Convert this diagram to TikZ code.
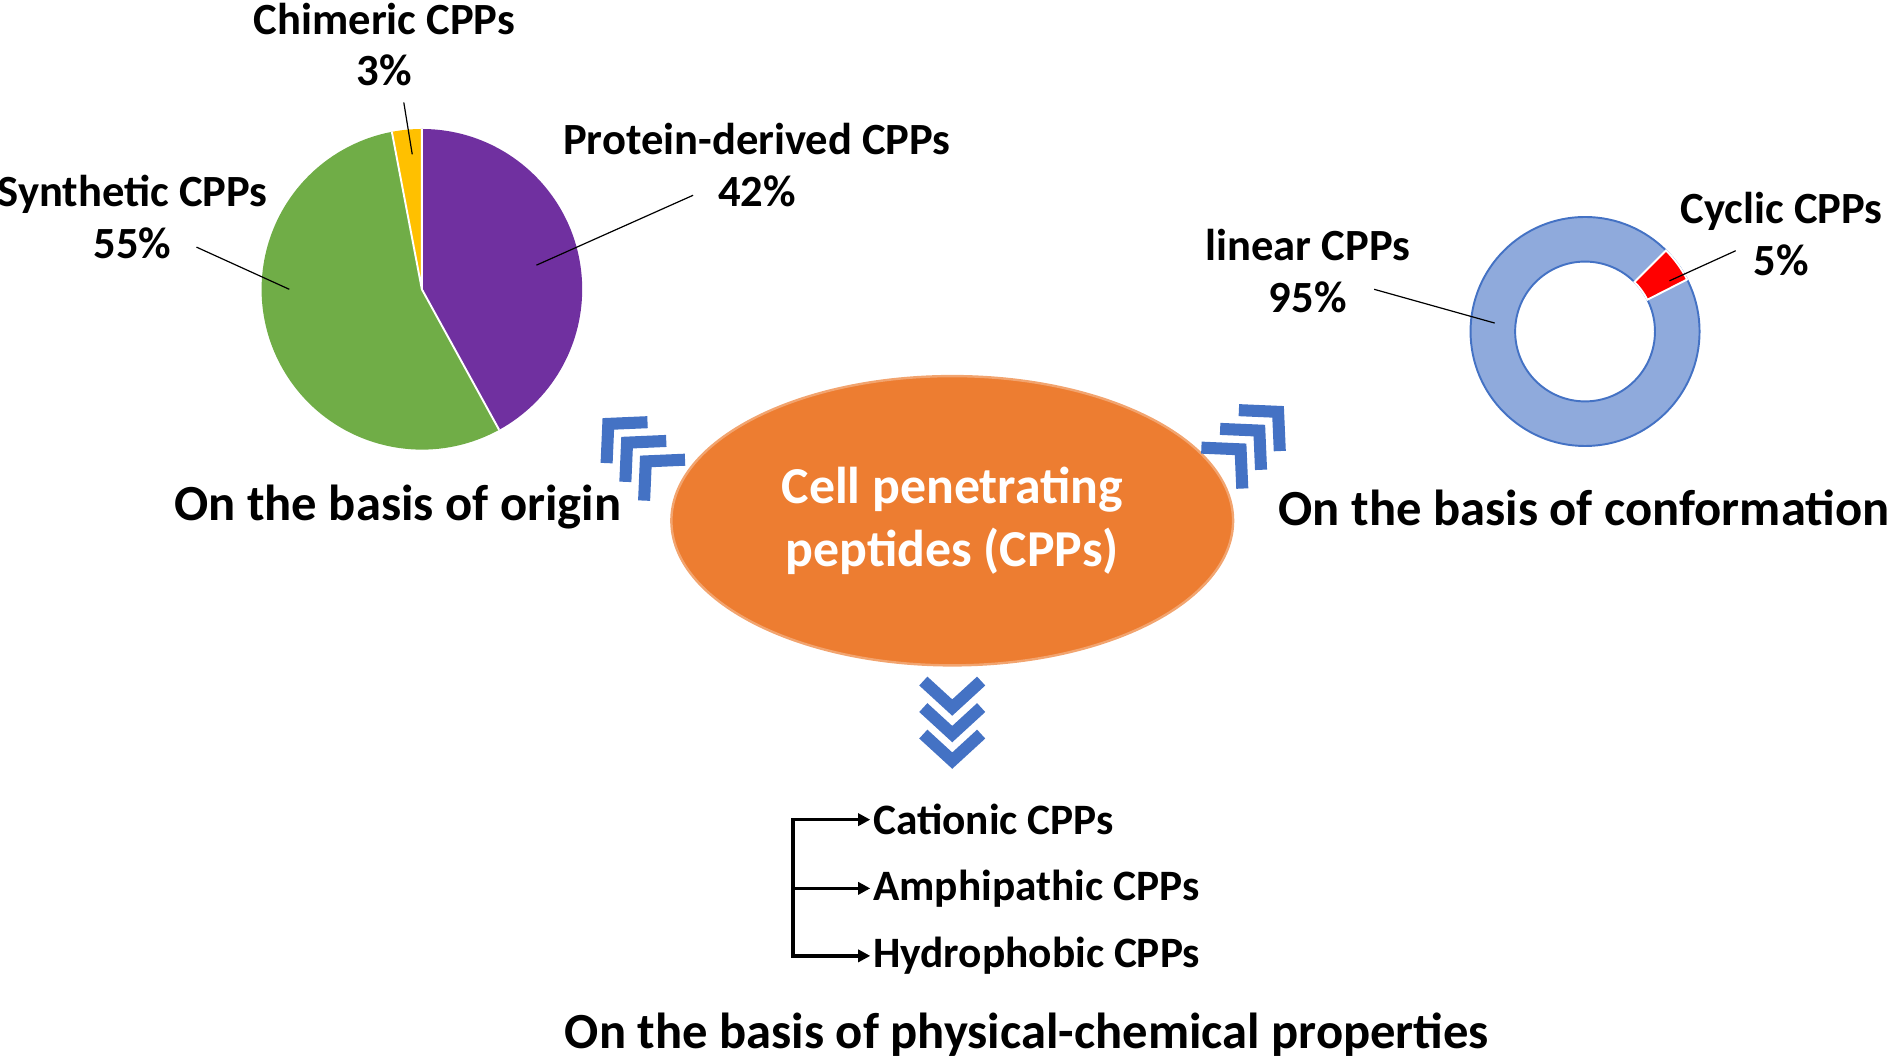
\documentclass[tikz,border=0pt]{standalone}
\usepackage{fontspec}
\setmainfont{Carlito}
\usetikzlibrary{shapes.geometric,arrows.meta}
\definecolor{purp}{HTML}{7030A0}
\definecolor{grn}{HTML}{70AD47}
\definecolor{yel}{HTML}{FFC000}
\definecolor{lblue}{HTML}{8FAADC}
\definecolor{dblue}{HTML}{4472C4}
\definecolor{orng}{HTML}{ED7D31}
\tikzset{
 lbl/.style={font=\bfseries\fontsize{18.5}{21.5}\selectfont, align=center},
 big/.style={font=\bfseries\fontsize{21}{25}\selectfont},
 item/.style={font=\bfseries\fontsize{18}{21}\selectfont, anchor=west, inner sep=1pt},
 lead/.style={black, line width=0.5pt},
 chevline/.style={dblue, line width=5pt, miter limit=10}
}
\newcommand{\mychev}[3]{%
 \begin{scope}[shift={(#1,#2)}, rotate=#3]
  \foreach \d in {-22,0,22}{\draw[chevline] (-24,\d-11)--(0,\d+11)--(24,\d-11);}
 \end{scope}}
\begin{document}
\begin{tikzpicture}[x=0.5pt,y=-0.5pt]
\useasboundingbox (0,0) rectangle (1568,880);
% pie
\coordinate (pc) at (350,240);
\fill[purp] (pc) -- ++(-90:133) arc[start angle=-90,end angle=61.2,radius=133] -- cycle;
\fill[grn] (pc) -- ++(61.2:133) arc[start angle=61.2,end angle=259.2,radius=133] -- cycle;
\fill[yel] (pc) -- ++(259.2:133) arc[start angle=259.2,end angle=270,radius=133] -- cycle;
\draw[white, line width=0.8pt] (pc) -- ++(-90:133) (pc) -- ++(61.2:133) (pc) -- ++(259.2:133);
\node[lbl] (chim) at (319,37) {Chimeric CPPs\\3\%};
\node[lbl] (prot) at (628,137) {Protein-derived CPPs\\42\%};
\node[lbl] (synt) at (110,180) {Synthetic CPPs\\55\%};
\coordinate (chimA) at (342,128); \coordinate (chimB) at (335,85);
\coordinate (protA) at (445,220); \coordinate (protB) at (575,162);
\coordinate (syntA) at (240,240); \coordinate (syntB) at (163,205);
\draw[lead] (chimA)--(chimB); \draw[lead] (protA)--(protB); \draw[lead] (syntA)--(syntB);
% donut
\coordinate (dc) at (1315,275);
\fill[lblue, even odd rule] (dc) circle[radius=95] (dc) circle[radius=58];
\draw[dblue, line width=0.8pt] (dc) circle[radius=95] (dc) circle[radius=58];
\fill[red, draw=white, line width=0.8pt] (dc) ++(-45:58) arc[start angle=-45,end angle=-27,radius=58] -- ++(-27:37) arc[start angle=-27,end angle=-45,radius=95] -- cycle;
\node[lbl] (lin) at (1085,225) {linear CPPs\\95\%};
\node[lbl] (cyc) at (1478,194) {Cyclic CPPs\\5\%};
\coordinate (linA) at (1240,268); \coordinate (linB) at (1140,240);
\coordinate (cycA) at (1385,233); \coordinate (cycB) at (1440,208);
\draw[lead] (linA)--(linB); \draw[lead] (cycA)--(cycB);
% center
\node[ellipse, fill=orng, draw=orng!70!white, line width=1pt, minimum width=233pt, minimum height=120pt, text=white, font=\bfseries\fontsize{21.5}{26}\selectfont, align=center] (cpp) at (790,432) {Cell penetrating\\peptides (CPPs)};
\node[big] (orig) at (330,421) {On the basis of origin};
\node[big, anchor=east, inner sep=0pt] (conf) at (1568,421) {On the basis of conformation};
\node[big] (phys) at (852,858) {On the basis of physical-chemical properties};
\mychev{528}{375}{-135}
\mychev{1037}{365}{135}
\mychev{790}{598}{0}
% list
\node[item] (cat) at (722,680) {Cationic CPPs};
\node[item] (amp) at (722,737) {Amphipathic CPPs};
\node[item] (hyd) at (722,793) {Hydrophobic CPPs};
\coordinate (br1) at (658,680); \coordinate (br2) at (658,737); \coordinate (br3) at (658,793);
\draw[line width=1.5pt] (br1)--(br3);
\foreach \a/\b in {br1/cat,br2/amp,br3/hyd}{\draw[line width=1.5pt,-{Triangle[length=5pt,width=5pt]}] ([xshift=-0.75pt]\a) -- (\b.west);}
\end{tikzpicture}
\end{document}
